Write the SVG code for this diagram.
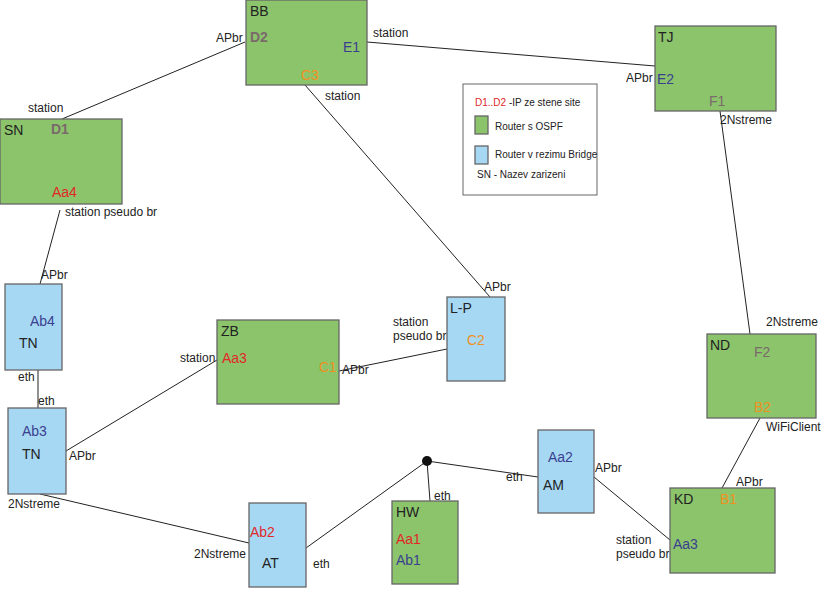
<svg xmlns="http://www.w3.org/2000/svg" width="821" height="589" viewBox="0 0 821 589">
<style>
text{font-family:"Liberation Sans",Arial,sans-serif}
.g{fill:#8cc46c;stroke:#666;stroke-width:1.3}
.b{fill:#a6d8f4;stroke:#666;stroke-width:1.3}
.n{font-size:14px;fill:#222}
.l{font-size:12px;fill:#222}
.p{font-size:14px;fill:#7a6a6a;font-weight:bold}
.f{font-size:14px;fill:#7a6a6a}
.e{font-size:14px;fill:#3b3f90}
.c{font-size:14px;fill:#f0901e}
.a{font-size:14px;fill:#e02828}
line{stroke:#222;stroke-width:1}
</style>
<rect width="821" height="589" fill="#fff"/>
<g id="connectors">
<line x1="245" y1="42" x2="62" y2="119"/>
<line x1="367" y1="42" x2="655" y2="66"/>
<line x1="305" y1="85" x2="490" y2="297"/>
<line x1="720" y1="111" x2="750" y2="334"/>
<line x1="60" y1="210" x2="40" y2="284"/>
<line x1="38" y1="370" x2="38" y2="408"/>
<line x1="339" y1="371" x2="447" y2="349"/>
<line x1="217" y1="360" x2="66" y2="451"/>
<line x1="40" y1="494" x2="249" y2="543"/>
<line x1="306" y1="548" x2="427" y2="461"/>
<line x1="427" y1="461" x2="430" y2="501"/>
<line x1="427" y1="461" x2="538" y2="477"/>
<line x1="594" y1="477" x2="670" y2="540"/>
<line x1="760" y1="418" x2="722" y2="488"/>
<circle cx="427" cy="461" r="5" fill="#111"/>
<text class="l" x="216" y="42">APbr</text>
<text class="l" x="28" y="112">station</text>
<text class="l" x="373" y="37">station</text>
<text class="l" x="325" y="100">station</text>
<text class="l" x="626" y="82">APbr</text>
<text class="l" x="720" y="124">2Nstreme</text>
<text class="l" x="65" y="216">station pseudo br</text>
<text class="l" x="41" y="279">APbr</text>
<text class="l" x="18" y="381">eth</text>
<text class="l" x="38" y="405">eth</text>
<text class="l" x="484" y="291">APbr</text>
<text class="l" x="393" y="326">station</text>
<text class="l" x="393" y="340">pseudo br</text>
<text class="l" x="342" y="374">APbr</text>
<text class="l" x="180" y="362">station</text>
<text class="l" x="69" y="460">APbr</text>
<text class="l" x="8" y="508">2Nstreme</text>
<text class="l" x="194" y="558">2Nstreme</text>
<text class="l" x="313" y="568">eth</text>
<text class="l" x="434" y="500">eth</text>
<text class="l" x="506" y="481">eth</text>
<text class="l" x="595" y="472">APbr</text>
<text class="l" x="616" y="544">station</text>
<text class="l" x="616" y="558">pseudo br</text>
<text class="l" x="766" y="326">2Nstreme</text>
<text class="l" x="766" y="431">WiFiClient</text>
<text class="l" x="736" y="486">APbr</text>
</g>
<g id="BB"><rect class="g" x="246" y="0" width="121" height="85"/><text class="n" x="250" y="16">BB</text><text class="p" x="250" y="42">D2</text><text class="e" x="343" y="52">E1</text><text class="c" x="301" y="80">C3</text></g>
<g id="SN"><rect class="g" x="0" y="119" width="122" height="85"/><text class="n" x="4" y="135">SN</text><text class="p" x="51" y="134">D1</text><text class="a" x="52" y="197">Aa4</text></g>
<g id="TJ"><rect class="g" x="655" y="26" width="121" height="85"/><text class="n" x="658" y="42">TJ</text><text class="e" x="657" y="84">E2</text><text class="f" x="709" y="106">F1</text></g>
<g id="ND"><rect class="g" x="707" y="334" width="109" height="84"/><text class="n" x="710" y="350">ND</text><text class="f" x="754" y="357">F2</text><text class="c" x="754" y="412">B2</text></g>
<g id="KD"><rect class="g" x="670" y="488" width="105" height="85"/><text class="n" x="674" y="504">KD</text><text class="c" x="720" y="504">B1</text><text class="e" x="673" y="549">Aa3</text></g>
<g id="ZB"><rect class="g" x="217" y="320" width="122" height="84"/><text class="n" x="221" y="336">ZB</text><text class="a" x="222" y="363">Aa3</text><text class="c" x="319" y="372">C1</text></g>
<g id="HW"><rect class="g" x="392" y="501" width="66" height="83"/><text class="n" x="396" y="517">HW</text><text class="a" x="396" y="544">Aa1</text><text class="e" x="396" y="565">Ab1</text></g>
<g id="TN1"><rect class="b" x="5" y="284" width="57" height="86"/><text class="e" x="30" y="326">Ab4</text><text class="n" x="19" y="348">TN</text></g>
<g id="TN2"><rect class="b" x="8" y="408" width="58" height="86"/><text class="e" x="22" y="436">Ab3</text><text class="n" x="22" y="459">TN</text></g>
<g id="LP"><rect class="b" x="447" y="297" width="58" height="84"/><text class="n" x="450" y="313">L-P</text><text class="c" x="467" y="345">C2</text></g>
<g id="AT"><rect class="b" x="249" y="503" width="57" height="84"/><text class="a" x="250" y="537">Ab2</text><text class="n" x="262" y="568">AT</text></g>
<g id="AM"><rect class="b" x="538" y="430" width="56" height="83"/><text class="e" x="548" y="462">Aa2</text><text class="n" x="543" y="490">AM</text></g>
<g id="legend"><rect x="463" y="84" width="134" height="111" fill="#fff" stroke="#666"/>
<text x="475" y="106" font-size="10" fill="#e02828">D1..D2 <tspan fill="#222">-IP ze stene site</tspan></text>
<rect class="g" x="475" y="116" width="13" height="18"/><text x="495" y="130" font-size="10" fill="#222">Router s OSPF</text>
<rect class="b" x="475" y="146" width="13" height="18"/><text x="495" y="158" font-size="10" fill="#222">Router v rezimu Bridge</text>
<text x="477" y="178" font-size="10" fill="#222">SN - Nazev zarizeni</text></g>
</svg>
